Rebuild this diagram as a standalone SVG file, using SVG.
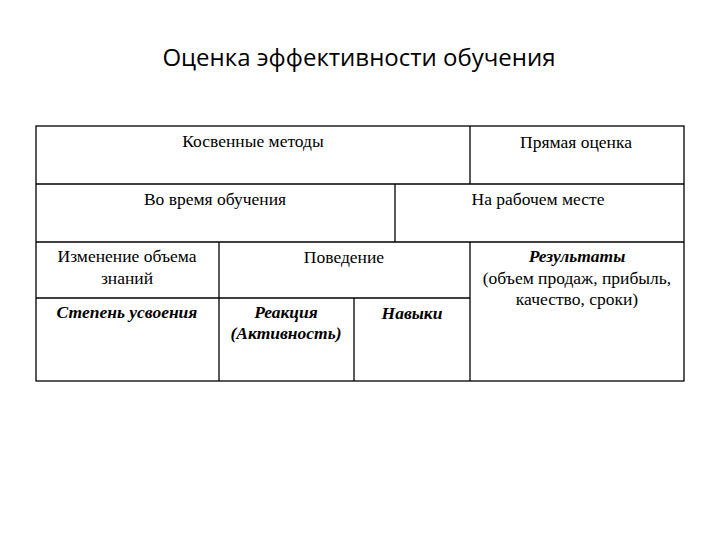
<svg xmlns="http://www.w3.org/2000/svg" width="720" height="540" viewBox="0 0 720 540">
<style>
.t{font-family:"Liberation Serif","Times New Roman",serif;font-size:17.5px;fill:#000;text-anchor:middle}
.bi{font-weight:bold;font-style:italic}
.ln{stroke:#000;stroke-width:1.3;fill:none}
</style>
<rect width="720" height="540" fill="#fff"/>
<text x="359" y="66" style="font-family:'Open Sans','Noto Sans',sans-serif;font-size:24px;fill:#000;text-anchor:middle">Оценка эффективности обучения</text>
<g id="connectors">
<rect class="ln" x="36" y="126" width="648" height="255"/>
<line class="ln" x1="36" y1="184" x2="684" y2="184"/>
<line class="ln" x1="36" y1="242" x2="684" y2="242"/>
<line class="ln" x1="470" y1="126" x2="470" y2="184"/>
<line class="ln" x1="395" y1="184" x2="395" y2="242"/>
<line class="ln" x1="219" y1="242" x2="219" y2="381"/>
<line class="ln" x1="470" y1="242" x2="470" y2="381"/>
<line class="ln" x1="354" y1="298" x2="354" y2="381"/>
<line class="ln" x1="36" y1="298" x2="470" y2="298"/>
</g>
<g id="n1"><text class="t" x="253" y="147">Косвенные методы</text></g>
<g id="n2"><text class="t" x="576" y="148">Прямая оценка</text></g>
<g id="n3"><text class="t" x="215" y="205">Во время обучения</text></g>
<g id="n4"><text class="t" x="538" y="205">На рабочем месте</text></g>
<g id="n5"><text class="t" x="127" y="262">Изменение объема</text><text class="t" x="127" y="284">знаний</text></g>
<g id="n6"><text class="t" x="344" y="263">Поведение</text></g>
<g id="n7"><text class="t bi" x="127" y="318">Степень усвоения</text></g>
<g id="n8"><text class="t bi" x="286" y="318">Реакция</text><text class="t bi" x="286" y="339">(Активность)</text></g>
<g id="n9"><text class="t bi" x="412" y="319">Навыки</text></g>
<g id="n10"><text class="t bi" x="577" y="262">Результаты</text><text class="t" x="577" y="284">(объем продаж, прибыль,</text><text class="t" x="577" y="305">качество, сроки)</text></g>
</svg>
